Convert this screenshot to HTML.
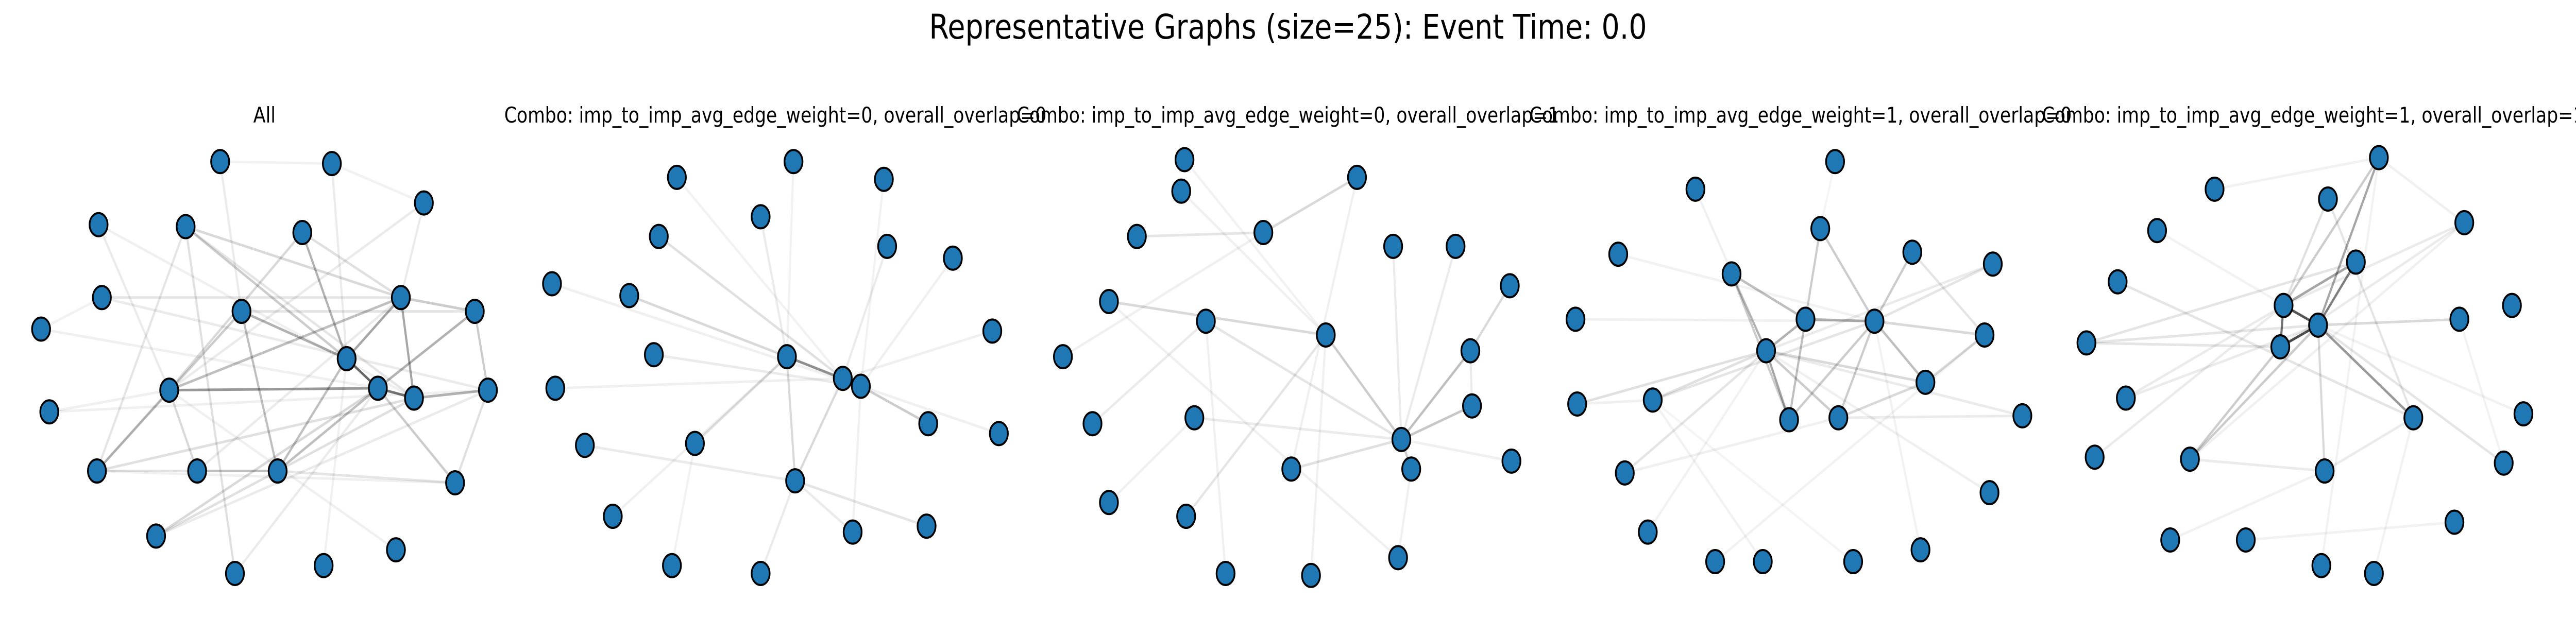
<!DOCTYPE html>
<html><head><meta charset="utf-8"><style>
html,body{margin:0;padding:0;background:#fff;overflow:hidden;width:100%;height:100%;}
svg{display:block;width:100vw;height:100vh;}
text{font-family:"DejaVu Sans","Liberation Sans",sans-serif;fill:#000;}
</style></head>
<body>
<svg id="fig" viewBox="0 0 6000 1200" preserveAspectRatio="none">
<text x="3000" y="75" text-anchor="middle" font-size="66" textLength="1672" lengthAdjust="spacingAndGlyphs">Representative Graphs (size=25): Event Time: 0.0</text>
<g id="panels"></g>
</svg>
<script>
// Node layouts (reference image coords, 1568-wide thumbnail units)
const titles = ["All",
"Combo: imp_to_imp_avg_edge_weight=0, overall_overlap=0",
"Combo: imp_to_imp_avg_edge_weight=0, overall_overlap=1",
"Combo: imp_to_imp_avg_edge_weight=1, overall_overlap=0",
"Combo: imp_to_imp_avg_edge_weight=1, overall_overlap=1"];
const nodes1 = [[134,82],[202,83],[258,103],[60,114],[113,115],[184,118],[62,151],[244,151],[147,158],[289,158],[25,167],[211,182],[103,198],[230,197],[252,202],[297,198],[30,209],[59,239],[120,239],[169,239],[277,245],[95,272],[241,279],[197,287],[143,291]];
const nodes2 = [[483,82],[412,90],[538,91],[463,110],[401,120],[540,125],[580,131],[336,144],[383,150],[479,181],[604,168],[398,180],[513,192],[524,196],[338,197],[565,215],[608,220],[423,225],[356,226],[484,244],[373,262],[519,270],[564,267],[409,287],[463,291]];
const nodes3 = [[721,81],[826,90],[719,97],[769,118],[692,120],[848,125],[675,153],[886,125],[919,145],[734,163],[807,170],[647,181],[895,178],[896,206],[665,215],[727,212],[853,223],[859,238],[786,238],[920,234],[675,255],[722,262],[851,283],[746,291],[798,292]];
const nodes4 = [[1117,82],[1032,96],[1108,116],[1164,128],[985,129],[1213,134],[1054,139],[1099,162],[1141,163],[959,162],[1208,170],[1075,178],[1172,194],[1006,203],[1231,211],[960,205],[1119,212],[1089,213],[989,240],[1211,250],[1003,270],[1073,285],[1169,279],[1044,285],[1128,285]];
const nodes5 = [[1448,80],[1348,96],[1417,101],[1500,113],[1313,117],[1434,133],[1289,143],[1390,155],[1529,155],[1411,165],[1388,176],[1497,162],[1270,174],[1294,202],[1469,212],[1536,210],[1333,233],[1415,239],[1275,232],[1524,235],[1494,265],[1321,274],[1367,274],[1445,291],[1413,287]];
// Edges: [from, to, weight 0..1]
const edges1 = [[11,13,0.6],[13,14,0.55],[12,13,0.4],[7,11,0.35],[7,14,0.35],[9,13,0.3],[14,15,0.3],[5,11,0.3],[8,11,0.3],[18,19,0.25],[7,12,0.25],[7,9,0.2],[9,15,0.2],[4,11,0.2],[8,19,0.25],[19,11,0.25],[19,13,0.25],[17,8,0.2],[13,20,0.2],[15,20,0.12],[4,24,0.12],[4,7,0.15],[5,12,0.15],[17,12,0.15],[12,18,0.15],[21,13,0.15],[21,14,0.12],[17,14,0.12],[17,18,0.12],[6,7,0.1],[8,9,0.1],[3,12,0.08],[4,17,0.1],[0,8,0.08],[1,11,0.08],[2,12,0.08],[2,7,0.08],[6,15,0.08],[10,13,0.06],[16,12,0.06],[16,15,0.06],[21,15,0.08],[23,11,0.06],[24,13,0.08],[22,12,0.06],[19,20,0.1],[18,7,0.08],[3,14,0.06],[0,1,0.05],[1,2,0.05],[10,6,0.05],[17,20,0.06],[5,7,0.12],[4,14,0.1]];
const edges2 = [[9,13,0.3],[12,13,0.25],[9,12,0.2],[13,15,0.2],[8,9,0.15],[9,19,0.15],[4,12,0.12],[12,19,0.15],[19,22,0.1],[17,9,0.12],[3,9,0.08],[11,13,0.08],[5,12,0.08],[7,13,0.06],[14,12,0.06],[18,19,0.08],[19,21,0.08],[20,9,0.06],[24,19,0.08],[1,12,0.05],[6,13,0.06],[10,12,0.06],[16,13,0.06],[23,17,0.05],[0,9,0.05],[2,13,0.05],[21,13,0.06]];
const edges3 = [[16,12,0.25],[16,13,0.22],[16,10,0.2],[6,10,0.15],[16,17,0.2],[12,8,0.15],[3,1,0.15],[16,18,0.12],[10,21,0.1],[4,3,0.1],[9,16,0.1],[15,16,0.08],[14,9,0.08],[11,3,0.06],[2,10,0.06],[5,16,0.08],[7,16,0.08],[19,16,0.06],[22,17,0.06],[24,10,0.06],[20,15,0.06],[23,9,0.06],[0,10,0.05],[6,22,0.06],[1,18,0.06],[12,13,0.08]];
const edges4 = [[6,7,0.25],[6,11,0.25],[7,8,0.3],[7,11,0.3],[11,17,0.35],[2,7,0.2],[2,8,0.2],[8,12,0.25],[8,16,0.2],[3,8,0.2],[7,17,0.25],[11,16,0.2],[12,16,0.15],[8,10,0.15],[6,17,0.2],[17,8,0.2],[11,12,0.15],[10,12,0.15],[11,13,0.12],[11,15,0.12],[13,8,0.1],[11,18,0.1],[5,8,0.1],[5,11,0.08],[3,10,0.1],[11,14,0.08],[16,14,0.08],[9,8,0.06],[1,11,0.06],[4,8,0.05],[18,16,0.06],[15,13,0.06],[19,11,0.06],[22,8,0.05],[23,10,0.05],[21,13,0.05],[20,11,0.05],[24,13,0.04],[0,2,0.04]];
const edges5 = [[7,9,0.65],[9,10,0.7],[7,10,0.55],[5,9,0.5],[5,7,0.35],[0,9,0.35],[0,7,0.2],[9,14,0.4],[9,16,0.2],[10,16,0.2],[9,11,0.15],[7,2,0.12],[9,17,0.15],[10,12,0.1],[12,5,0.1],[12,9,0.1],[6,14,0.1],[2,14,0.1],[13,9,0.08],[13,7,0.08],[7,3,0.08],[18,7,0.08],[16,17,0.08],[17,14,0.08],[9,19,0.1],[10,3,0.08],[4,9,0.05],[11,19,0.05],[0,3,0.06],[1,0,0.05],[21,17,0.05],[22,20,0.05],[23,14,0.05],[24,0,0.05],[15,9,0.05],[16,3,0.06]];

const allNodes = [nodes1, nodes2, nodes3, nodes4, nodes5];
const allEdges = [edges1, edges2, edges3, edges4, edges5];
const titleCenters = [616, 1806, 3000, 4194, 5388];

const S = 6000 / 1568;
function sx(v){ return v * S; }
function sy(v){ return v * S; }
const NS = "http://www.w3.org/2000/svg";
const root = document.getElementById('panels');

allNodes.forEach(function(nodes, p){
  const g = document.createElementNS(NS, 'g');
  
  
  root.appendChild(g);

  const t = document.createElementNS(NS, 'text');
  
  
  t.setAttribute('x', titleCenters[p]);
  t.setAttribute('y', 238);
  t.setAttribute('text-anchor', 'middle');
  t.setAttribute('font-size', 42);
  if (p > 0) { t.setAttribute('textLength', 1263); t.setAttribute('lengthAdjust', 'spacingAndGlyphs'); }
  t.textContent = titles[p];
  g.appendChild(t);

  allEdges[p].forEach(function(e){
    const a = nodes[e[0]], b = nodes[e[1]];
    const l = document.createElementNS(NS, 'line');
    
    
    l.setAttribute('x1', sx(a[0])); l.setAttribute('y1', sy(a[1]));
    l.setAttribute('x2', sx(b[0])); l.setAttribute('y2', sy(b[1]));
    l.setAttribute('stroke', '#000');
    l.setAttribute('stroke-opacity', e[2]);
    l.setAttribute('stroke-width', 5);
    g.appendChild(l);
  });

  nodes.forEach(function(n){
    const c = document.createElementNS(NS, 'ellipse');
    
    
    c.setAttribute('cx', sx(n[0])); c.setAttribute('cy', sy(n[1]));
    c.setAttribute('rx', 21); c.setAttribute('ry', 22.5);
    c.setAttribute('fill', '#1f77b4');
    c.setAttribute('stroke', '#000');
    c.setAttribute('stroke-width', 4);
    g.appendChild(c);
  });
});
</script>
</body></html>
